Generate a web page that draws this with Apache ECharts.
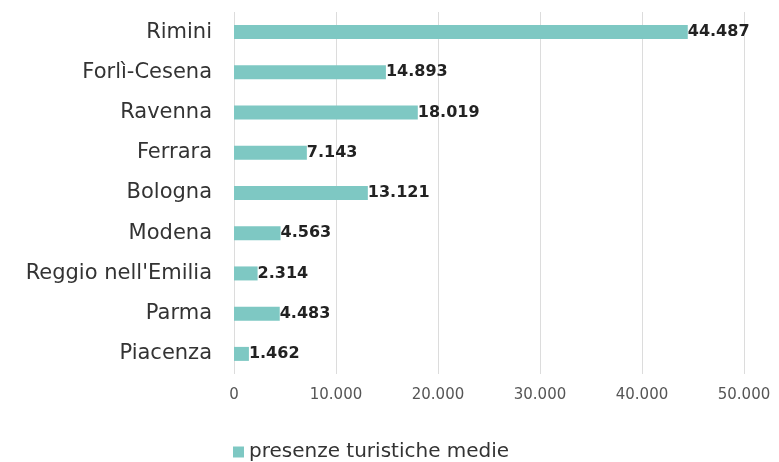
<!DOCTYPE html>
<html><head><meta charset="utf-8">
<script src="https://cdn.jsdelivr.net/npm/echarts@6/dist/echarts.min.js"></script>
<style>html,body{margin:0;padding:0;background:#fff}#c{width:779px;height:462px}</style>
</head><body><div id="c"></div>
<script>
const categories = ["Piacenza","Parma","Reggio nell'Emilia","Modena","Bologna","Ferrara","Ravenna","Forlì-Cesena","Rimini"];
const values = [1462,4483,2314,4563,13121,7143,18019,14893,44487];
const seriesName = "presenze turistiche medie";
const fmt = v => String(v).replace(/\B(?=(\d{3})+(?!\d))/g, ".");
const chart = echarts.init(document.getElementById('c'));
chart.setOption({
  animation:false,
  grid:{left:234,right:35,top:12,height:362,containLabel:false},
  xAxis:{type:'value',min:0,max:50000,interval:10000,
    axisLine:{show:false},axisTick:{show:false},
    splitLine:{lineStyle:{color:'#dcdcdc',width:1}},
    axisLabel:{formatter:v=>fmt(v),color:'#555',fontSize:15,fontFamily:'DejaVu Sans',margin:14}},
  yAxis:{type:'category',data:categories,
    axisLine:{show:false},axisTick:{show:false},
    axisLabel:{color:'#333',fontSize:21,fontFamily:'DejaVu Sans',margin:22}},
  legend:{bottom:-5,left:228,itemWidth:11,itemHeight:11,icon:'rect',itemGap:4,
    textStyle:{color:'#333',fontSize:20,fontFamily:'DejaVu Sans'},data:[seriesName]},
  series:[{name:seriesName,type:'bar',data:values,barWidth:14,
    itemStyle:{color:'#7ec8c3'},
    label:{show:true,position:'right',distance:0,formatter:p=>fmt(p.value),
      color:'#222',fontWeight:'bold',fontSize:16,fontFamily:'DejaVu Sans'}}]
});
</script></body></html>
